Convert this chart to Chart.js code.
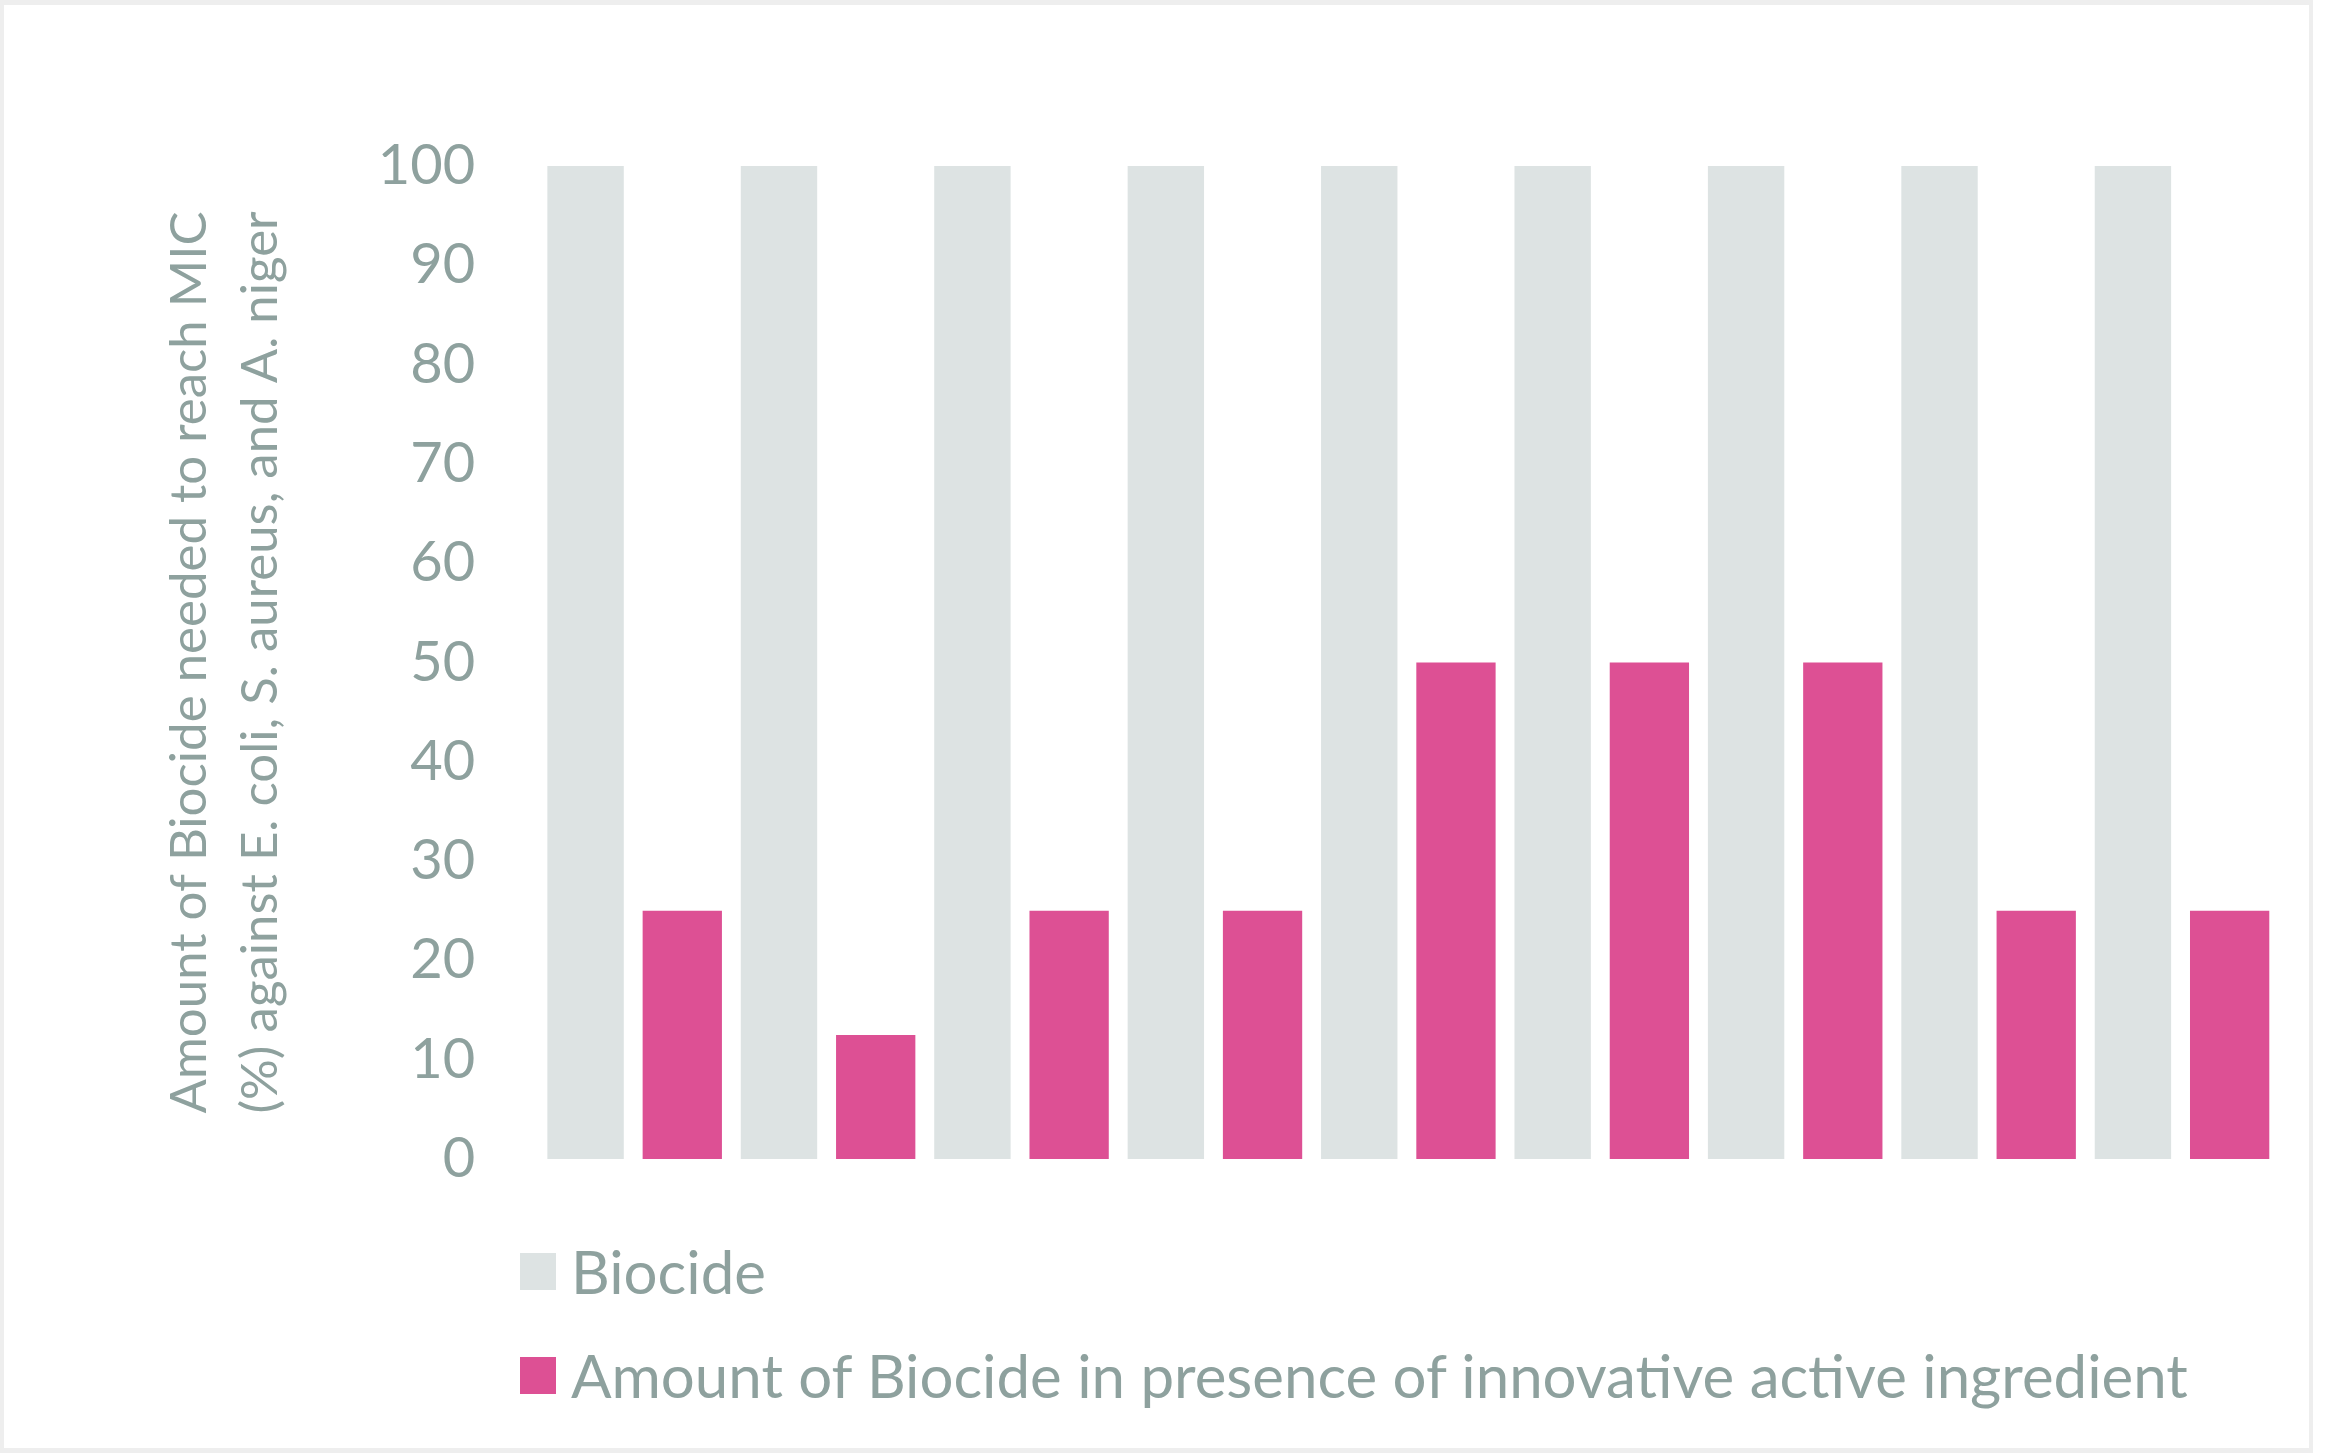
<!DOCTYPE html>
<html>
<head>
<meta charset="utf-8">
<script src="https://cdn.jsdelivr.net/npm/chart.js@4.4.1/dist/chart.umd.min.js"></script>
<style>
  html, body { margin: 0; padding: 0; background: #ffffff; }
  #frame {
    position: absolute; left: 0; top: 0;
    width: 2313px; height: 1453px;
    box-sizing: border-box;
    border: 4px solid #eeeeee; border-top-width: 5px; border-bottom-width: 5px;
    background: #ffffff;
  }
  #myChart { position: absolute; left: 0; top: 0; }
  #legend {
    position: absolute; left: 516px; top: 1214px;
    list-style: none; margin: 0; padding: 0;
    font-family: Lato, sans-serif; font-size: 60px; color: #8ea19e;
  }
  #legend li { display: flex; align-items: center; height: 104px; }
  #legend .box { display: inline-block; width: 36px; height: 37px; margin-right: 15px; }
</style>
</head>
<body>
<div id="frame">
  <canvas id="myChart" width="2305" height="1443"></canvas>
  <ul id="legend"></ul>
</div>
<script>
// data
const categories = ['1', '2', '3', '4', '5', '6', '7', '8', '9'];
const biocide = [100, 100, 100, 100, 100, 100, 100, 100, 100];
const withActive = [25, 12.5, 25, 25, 50, 50, 50, 25, 25];
const yTicks = [0, 10, 20, 30, 40, 50, 60, 70, 80, 90, 100];

const textGrey = '#8ea19e';
const barGrey = '#dde3e3';
const barPink = '#dd5094';

// legend drawn as html so it can stack like the original
const htmlLegend = {
    id: 'htmlLegend',
    afterUpdate(chart) {
        const ul = document.getElementById('legend');
        ul.innerHTML = '';
        const items = chart.options.plugins.legend.labels.generateLabels(chart);
        items.forEach(item => {
            const li = document.createElement('li');
            const box = document.createElement('span');
            box.className = 'box';
            box.style.background = item.fillStyle;
            const txt = document.createElement('span');
            txt.textContent = item.text;
            li.appendChild(box);
            li.appendChild(txt);
            ul.appendChild(li);
        });
    }
};

function draw() {
    const ctx = document.getElementById('myChart').getContext('2d');
    const myChart = new Chart(ctx, {
        type: 'bar',
        data: {
            labels: categories,
            datasets: [{
                label: 'Biocide',
                data: biocide,
                backgroundColor: barGrey,
                barPercentage: 0.79,
                categoryPercentage: 1
            }, {
                label: 'Amount of Biocide in presence of innovative active ingredient',
                data: withActive,
                backgroundColor: barPink,
                barPercentage: 0.82,
                categoryPercentage: 1
            }]
        },
        options: {
            responsive: false,
            animation: false,
            layout: {
                padding: { left: 150, top: 161, right: 31, bottom: 289 }
            },
            plugins: {
                legend: { display: false },
                tooltip: { enabled: false }
            },
            scales: {
                x: {
                    display: false
                },
                y: {
                    min: 0,
                    max: 100,
                    afterBuildTicks: axis => { axis.ticks = yTicks.map(v => ({ value: v })); },
                    grid: { display: false, drawTicks: false },
                    border: { display: false },
                    ticks: {
                        padding: 62,
                        color: textGrey,
                        font: { family: 'Lato', size: 56 }
                    },
                    title: {
                        display: true,
                        text: ['Amount of Biocide needed to reach MIC', '(%) against E. coli, S. aureus, and A. niger'],
                        color: textGrey,
                        font: { family: 'Lato', size: 51, lineHeight: 1.39 },
                        padding: { top: 0, bottom: 20 }
                    }
                }
            }
        },
        plugins: [htmlLegend]
    });
}

document.fonts.load('56px Lato').then(draw, draw);
</script>
</body>
</html>
